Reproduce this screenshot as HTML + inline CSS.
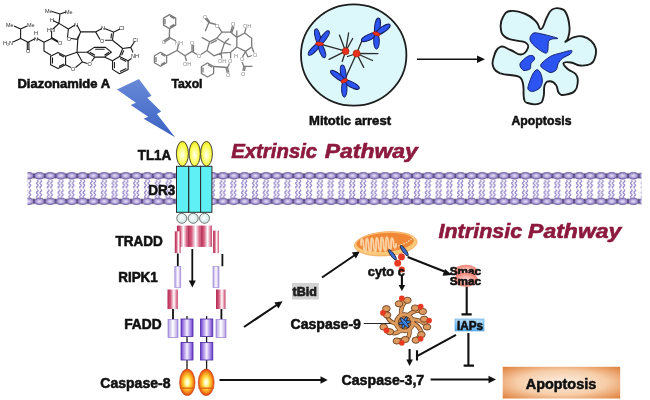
<!DOCTYPE html>
<html><head><meta charset="utf-8">
<style>
html,body{margin:0;padding:0;background:#fff;width:650px;height:400px;overflow:hidden}
svg{display:block;filter:blur(0.35px)}
text{font-family:"Liberation Sans",sans-serif;font-weight:bold;fill:#111}
text.b{stroke:#111;stroke-width:0.55px}
text.r{fill:#8c1a3e;stroke:#8c1a3e;stroke-width:0.6px}
</style></head><body>
<svg width="650" height="400" viewBox="0 0 650 400">
<defs>
  <radialGradient id="head" cx="50%" cy="50%" r="50%">
    <stop offset="0" stop-color="#ebe5f8"/>
    <stop offset="0.55" stop-color="#b2a4da"/>
    <stop offset="1" stop-color="#7866b2"/>
  </radialGradient>
  <pattern id="mem" x="34" y="172" width="10.8" height="33" patternUnits="userSpaceOnUse">
    <path d="M0,0.4 L1.6,3.8 L0,7.2 L-1.6,3.8Z M10.8,0.4 L12.4,3.8 L10.8,7.2 L9.2,3.8Z M0,25.9 L1.6,29.3 L0,32.7 L-1.6,29.3Z M10.8,25.9 L12.4,29.3 L10.8,32.7 L9.2,29.3Z" fill="#3c3258"/>
    <ellipse cx="5.4" cy="3.7" rx="5.3" ry="3.5" fill="url(#head)" stroke="#54447f" stroke-width="0.55"/>
    <ellipse cx="5.4" cy="29.4" rx="5.3" ry="3.5" fill="url(#head)" stroke="#54447f" stroke-width="0.55"/>
    <path d="M3.30,8.20 q1.70,1.02 0,2.05 q-1.70,1.02 0,2.05 q1.70,1.02 0,2.05 q-1.70,1.02 0,2.05M3.30,17.60 q1.70,1.02 0,2.05 q-1.70,1.02 0,2.05 q1.70,1.02 0,2.05 q-1.70,1.02 0,2.05M6.70,8.20 q1.70,1.02 0,2.05 q-1.70,1.02 0,2.05 q1.70,1.02 0,2.05 q-1.70,1.02 0,2.05M6.70,17.60 q1.70,1.02 0,2.05 q-1.70,1.02 0,2.05 q1.70,1.02 0,2.05 q-1.70,1.02 0,2.05" fill="none" stroke="#9282c8" stroke-width="1.25"/>
  </pattern>
</defs>

<!-- Diazonamide A structure -->
<g fill="none" stroke="#1a1a1a" stroke-width="1.1" stroke-linejoin="round">
  <path d="M14,26 L20.6,29 L27,26 M20.6,29 L20.6,38.5 L13,42 M20.6,38.5 L28.1,42.2 L35.5,38.5 M27.3,42.2 L27.3,50 M28.9,42.2 L28.9,50 M37,38.5 L44,42.2 L44,51 L51,55.3 M44,42.2 L51.6,38.5 L58,42.2 M51.6,37.5 L58,41.2 M51.6,38.5 L51.6,31 M53,29 L59,23.4 L53,20.5 M59,23.4 L60,14 L52,11.5 M60,14 L66,12 M59,23.4 L68.4,29"/>
  <path d="M68.4,29 L75,25 M77,25 L80.6,31.9 L77.8,39.4 L71,38.5 M67.5,37.5 L68.4,29 M80,33.5 L77.3,38.5"/>
  <path d="M80.6,31.9 L95.6,31.9 L102,28.6 M104.5,28.6 L113.5,31.9 L112.5,40.3 L105,40.3 M100,39.5 L95.6,31.9 M114,32 L120,29 M111.5,33.5 L111,38.5"/>
  <path d="M112.5,40.3 L122.7,48.5 L130.8,47.4 L134.6,41.5 M130.8,47.4 L133,52.5 M131.5,58.5 L128.1,60.8 L119.5,56.5 L122.7,48.5 M123.8,50.5 L121.6,55.3"/>
  <path d="M119.5,56.5 L112.5,60.8 L112.5,69.4 L119.5,73.8 L128.1,69.4 L128.1,60.8 M114.4,62 L114.4,68.3 M120,71.6 L126.3,68.4 M120.2,58.6 L126.2,61.6"/>
  <path d="M112.5,60.8 L104.4,57.1 L111.4,52.2 L105.5,47.4 L94.2,47.4 L87.2,52.2 L94.8,57.1 L104.4,57.1 M95.2,49.3 L104.6,49.3 M104.5,55.2 L109,52.2 M89.8,52.2 L95,55.3"/>
  <path d="M94.8,57.1 L91.5,61.5 M87.5,63.5 L82.4,61.9 L77,52.2 L87.2,52.2 M77.8,39.4 L77,52.2"/>
  <path d="M77,52.2 L65.6,56.3 L58,52.5 L50.6,56.3 L50.6,64.7 L58,68.4 L65.6,64.7 L65.6,56.3 M65.6,64.7 L71,67.5 M75.5,67.5 L82.4,61.9 M52.5,57.5 L52.5,63.5 M59,66.5 L64,64 M59,54.5 L64,57"/>
</g>
<g style="font-size:5.5px;font-weight:normal" fill="#2a2a2a">
  <text x="6" y="27" style="font-size:5.5px;font-weight:normal;fill:#2a2a2a">Me</text>
  <text x="27" y="27" style="font-size:5.5px;font-weight:normal;fill:#2a2a2a">Me</text>
  <text x="3" y="45" style="font-size:5.5px;font-weight:normal;fill:#2a2a2a">H₂N</text>
  <text x="26" y="53" style="font-size:5.5px;font-weight:normal;fill:#2a2a2a">O</text>
  <text x="34" y="35" style="font-size:5.5px;font-weight:normal;fill:#2a2a2a">H</text>
  <text x="34" y="41" style="font-size:5.5px;font-weight:normal;fill:#2a2a2a">N</text>
  <text x="58" y="45" style="font-size:5.5px;font-weight:normal;fill:#2a2a2a">O</text>
  <text x="47" y="32" style="font-size:5.5px;font-weight:normal;fill:#2a2a2a">HN</text>
  <text x="50" y="22" style="font-size:5.5px;font-weight:normal;fill:#2a2a2a">H</text>
  <text x="45" y="13" style="font-size:5.5px;font-weight:normal;fill:#2a2a2a">Me</text>
  <text x="65" y="14" style="font-size:5.5px;font-weight:normal;fill:#2a2a2a">Me</text>
  <text x="74" y="27" style="font-size:5.5px;font-weight:normal;fill:#2a2a2a">N</text>
  <text x="67" y="41" style="font-size:5.5px;font-weight:normal;fill:#2a2a2a">O</text>
  <text x="101" y="30" style="font-size:5.5px;font-weight:normal;fill:#2a2a2a">N</text>
  <text x="100" y="43" style="font-size:5.5px;font-weight:normal;fill:#2a2a2a">O</text>
  <text x="119" y="30" style="font-size:5.5px;font-weight:normal;fill:#2a2a2a">Cl</text>
  <text x="132.5" y="42" style="font-size:5.5px;font-weight:normal;fill:#2a2a2a">Cl</text>
  <text x="131" y="58.2" style="font-size:5.5px;font-weight:normal;fill:#2a2a2a">NH</text>
  <text x="87.5" y="66" style="font-size:5.5px;font-weight:normal;fill:#2a2a2a">O</text>
  <text x="71" y="71.3" style="font-size:5.5px;font-weight:normal;fill:#2a2a2a">O</text>
</g>
<!-- Taxol structure -->
<g fill="none" stroke="#7c7c7c" stroke-width="1.3" stroke-linejoin="round">
  <path d="M169.6,14.6 L175.7,18.1 L175.7,25.1 L169.6,28.6 L163.5,25.1 L163.5,18.1Z M165,19 L165,24.3 M170,16.3 L174.3,18.8 M170,26.9 L174.3,24.4"/>
  <path d="M169.6,28.6 L169.3,37.4 L163.5,41 M169.8,38.8 L164.3,42.3 M169.3,37.4 L176,41"/>
  <path d="M178.5,44.5 L177.1,50.5 L185,55.8 L186.5,61 M185,55.8 L192,51.4 L192,45 M193.5,51.4 L193.5,45 M192,51.4 L197,54.5 M201,54.5 L207,50.5"/>
  <path d="M177.1,50.5 L166.6,55.8 M166.6,55.8 L166.6,62.8 L160.5,66.3 L154.4,62.8 L154.4,55.8 L160.5,52.3Z M156,57 L156,62 M161,54 L165,56.3 M161,64.6 L165,62.3"/>
  <path d="M207,50.5 L209.6,41.8 L201.8,37.4 M209.6,41.8 L216.6,38.3 M210.5,43.5 L216.8,40.3 M216.6,38.3 L221.9,32.1 L218.5,27 M216,24.5 L208.8,22.5 L205.3,18.5 M209.8,21.8 L206.6,17.8 M208.8,22.5 L205.3,31.3"/>
  <path d="M221.9,32.1 L230.6,32.1 L232.5,26 M231.8,32.5 L234,26.5 M230.6,32.1 L236.8,37.4 L236.8,30.4 M236.8,37.4 L244.7,33 L246,28 M244.7,33 L251.7,38.3 L251.7,47 L245.5,51.4 L236.8,47 L236.8,37.4"/>
  <path d="M251.7,47 L254,52.5 M252,55.5 L248,57 L245.5,51.4"/>
  <path d="M236.8,47 L230.6,52.3 L221,53.2 L214,55.8 L207,50.5 M221,53.2 L221.9,58.5 M221,53.2 L224.5,42.7 L216.6,38.3 M224.5,42.7 L229,38.5 M224.5,42.7 L231,45"/>
  <path d="M230.6,52.3 L230.6,58.5 M229.5,63.5 L227.5,67.5 L228.8,72.5 M226,67.8 L227.3,72.8 M227.5,67.5 L213.6,66.5"/>
  <path d="M213.6,66.5 L213.6,73.5 L207.5,77 L201.4,73.5 L201.4,66.5 L207.5,63Z M203,67.5 L203,72.5 M208,64.8 L212.2,67.2"/>
  <path d="M245.5,51.4 L242.5,57 M242,62 L243.8,66.3 L243,71 M245.3,66.3 L244.5,71 M243.8,66.3 L252.5,66.3"/>
</g>
<g fill="#8a8a8a">
  <text x="162" y="44" style="font-size:5.5px;font-weight:normal;fill:#8a8a8a">O</text>
  <text x="175" y="44.5" style="font-size:5.5px;font-weight:normal;fill:#8a8a8a">NH</text>
  <text x="183" y="66" style="font-size:5.5px;font-weight:normal;fill:#8a8a8a">OH</text>
  <text x="190" y="45" style="font-size:5.5px;font-weight:normal;fill:#8a8a8a">O</text>
  <text x="197" y="58" style="font-size:5.5px;font-weight:normal;fill:#8a8a8a">O</text>
  <text x="203" y="19" style="font-size:5.5px;font-weight:normal;fill:#8a8a8a">O</text>
  <text x="215" y="27.5" style="font-size:5.5px;font-weight:normal;fill:#8a8a8a">O</text>
  <text x="231" y="26" style="font-size:5.5px;font-weight:normal;fill:#8a8a8a">O</text>
  <text x="243" y="28" style="font-size:5.5px;font-weight:normal;fill:#8a8a8a">OH</text>
  <text x="253" y="57" style="font-size:5.5px;font-weight:normal;fill:#8a8a8a">O</text>
  <text x="218" y="63" style="font-size:5.5px;font-weight:normal;fill:#8a8a8a">OH</text>
  <text x="228" y="63" style="font-size:5.5px;font-weight:normal;fill:#8a8a8a">O</text>
  <text x="234" y="58" style="font-size:5.5px;font-weight:normal;fill:#8a8a8a">H</text>
  <text x="240" y="61" style="font-size:5.5px;font-weight:normal;fill:#8a8a8a">O</text>
  <text x="226" y="77" style="font-size:5.5px;font-weight:normal;fill:#8a8a8a">O</text>
  <text x="241" y="76" style="font-size:5.5px;font-weight:normal;fill:#8a8a8a">O</text>
</g>
<text class="b" x="17.5" y="88" textLength="92.5" lengthAdjust="spacingAndGlyphs" style="font-size:12.5px">Diazonamide A</text>
<text class="b" x="171.5" y="88" textLength="31" lengthAdjust="spacingAndGlyphs" style="font-size:12.5px">Taxol</text>
<!-- lightning -->
<defs>
  <linearGradient id="bolt" x1="0" y1="0" x2="0" y2="1">
    <stop offset="0" stop-color="#6a8ad8"/>
    <stop offset="1" stop-color="#3a62c4"/>
  </linearGradient>
</defs>
<path d="M117,89.4 L138.9,78.9 L151.5,95.7 L147.3,97.8 L161.1,111.4 L156.9,113.9 L175.1,137.2 L143.6,118.8 L148.2,116.7 L130.7,105.1 L135.9,102.7Z" fill="url(#bolt)"/>
<!-- mitotic cell -->
<ellipse cx="353.7" cy="55" rx="52.7" ry="50.6" fill="#dcf8fb" stroke="#1e1e1e" stroke-width="1.8"/>
<g stroke="#2a2a2a" stroke-width="1.3" fill="none" stroke-linecap="round">
  <path d="M319.5,43.8 L345.6,51.2 M344.3,80.8 L356.6,53.5 M362,40.5 L356.6,53.5"/>
  <path d="M345.6,51.2 L339.5,35.2 M345.6,51.2 L348.6,33 M345.6,51.2 L352.7,38.5 M345.6,51.2 L329.1,59.4 M345.6,51.2 L342.2,61.5"/>
  <path d="M356.6,53.5 L378,53.6 M356.6,53.5 L372.5,60.5 M356.6,53.5 L363.7,67.4 M356.6,53.5 L347.5,56.5"/>
</g>
<g fill="#2c54f0" stroke="#141c60" stroke-width="1">
  <ellipse cx="317.75" cy="36.65" rx="2.6" ry="7.96" transform="rotate(-13.8 317.75 36.65)"/>
  <ellipse cx="324.00" cy="37.65" rx="2.6" ry="8.22" transform="rotate(36.2 324.00 37.65)"/>
  <ellipse cx="314.25" cy="49.15" rx="2.6" ry="8.10" transform="rotate(-135.5 314.25 49.15)"/>
  <ellipse cx="322.00" cy="50.40" rx="2.6" ry="7.66" transform="rotate(159.3 322.00 50.40)"/>
  <ellipse cx="377.50" cy="26.15" rx="2.8" ry="8.32" transform="rotate(7.4 377.50 26.15)"/>
  <ellipse cx="383.00" cy="29.40" rx="2.8" ry="8.45" transform="rotate(55.9 383.00 29.40)"/>
  <ellipse cx="369.25" cy="37.15" rx="2.8" ry="8.59" transform="rotate(-114.8 369.25 37.15)"/>
  <ellipse cx="376.50" cy="41.15" rx="2.8" ry="7.95" transform="rotate(180.0 376.50 41.15)"/>
  <ellipse cx="343.25" cy="73.20" rx="2.7" ry="8.27" transform="rotate(-7.9 343.25 73.20)"/>
  <ellipse cx="337.75" cy="75.95" rx="2.7" ry="8.75" transform="rotate(-53.5 337.75 75.95)"/>
  <ellipse cx="351.50" cy="84.55" rx="2.7" ry="8.72" transform="rotate(117.5 351.50 84.55)"/>
  <ellipse cx="344.30" cy="88.70" rx="2.7" ry="8.50" transform="rotate(180.0 344.30 88.70)"/>
</g>
<g fill="#e8301c" stroke="#901808" stroke-width="0.5">
  <ellipse cx="319.5" cy="43.8" rx="4" ry="1.9" transform="rotate(5 319.5 43.8)"/>
  <ellipse cx="376.5" cy="33.8" rx="3.8" ry="1.9" transform="rotate(20 376.5 33.8)"/>
  <ellipse cx="344.3" cy="80.8" rx="3.6" ry="1.9" transform="rotate(-25 344.3 80.8)"/>
  <circle cx="345.6" cy="51.2" r="3.5"/>
  <circle cx="356.6" cy="53.5" r="3.6"/>
</g>
<!-- arrow mitotic to apoptosis -->
<path d="M417,59.2 L479,59.2" stroke="#111" stroke-width="1.6"/>
<path d="M477,55.5 L485,59.2 L477,62.9Z" fill="#111"/>
<!-- apoptotic cell -->
<path d="M510.5,11.0 C515.8,10.3 519.5,11.6 525.5,14.0 C531.5,16.4 532.3,18.0 536.0,21.5 C539.7,25.0 538.6,30.1 541.2,29.0 C543.8,27.9 544.4,21.6 547.0,17.0 C549.6,12.4 549.1,11.4 552.2,9.5 C555.4,7.6 557.2,7.6 560.5,8.7 C563.8,9.8 564.4,9.6 566.5,14.0 C568.6,18.4 569.1,21.9 569.5,27.5 C569.9,33.1 568.9,34.7 568.0,38.0 C567.1,41.3 564.3,41.9 565.7,41.7 C567.1,41.5 570.0,38.4 574.0,37.2 C578.0,36.0 579.0,35.6 583.0,36.5 C587.0,37.4 588.2,38.2 591.2,41.0 C594.2,43.8 594.8,44.6 595.7,48.5 C596.6,52.4 596.2,53.9 595.0,57.5 C593.8,61.1 594.0,62.1 590.5,64.0 C587.0,65.9 584.5,65.8 580.0,65.5 C575.5,65.2 574.9,63.0 571.0,62.5 C567.1,62.0 564.2,61.6 563.5,63.2 C562.8,64.8 565.1,66.6 568.0,69.2 C570.9,71.8 573.7,71.5 576.0,74.5 C578.3,77.5 578.0,78.2 577.7,82.0 C577.4,85.8 577.7,88.0 574.7,91.0 C571.7,94.0 568.7,94.2 565.0,94.7 C561.3,95.2 561.1,95.5 559.0,93.2 C556.9,90.9 558.1,87.8 556.0,85.0 C553.9,82.2 552.6,81.2 550.0,81.2 C547.4,81.2 546.2,81.3 544.7,85.0 C543.2,88.7 544.8,92.6 543.5,97.0 C542.2,101.4 542.7,102.3 539.0,103.7 C535.3,105.1 531.2,104.2 527.7,103.0 C524.2,101.8 525.0,102.7 524.0,98.5 C523.0,94.3 524.1,89.9 523.2,85.0 C522.3,80.1 522.8,79.8 520.2,77.5 C517.6,75.2 516.4,76.1 512.0,75.2 C507.6,74.3 505.7,75.3 501.5,73.7 C497.3,72.1 495.9,72.2 494.0,68.5 C492.1,64.8 492.1,63.0 493.5,58.0 C494.9,53.0 496.0,48.9 500.0,47.0 C504.0,45.1 505.6,48.2 510.5,50.0 C515.4,51.8 517.0,54.9 521.0,54.5 C525.0,54.1 526.7,51.3 527.7,48.5 C528.8,45.7 528.6,44.4 525.5,42.5 C522.4,40.6 519.1,41.6 514.2,40.2 C509.3,38.8 507.7,39.5 504.5,36.5 C501.3,33.5 501.1,32.0 500.7,27.5 C500.3,22.9 500.7,20.9 503.0,17.0 C505.3,13.2 505.2,11.7 510.5,11.0Z" fill="#dcf8fb" stroke="#1e1e1e" stroke-width="1.9"/>
<g fill="#2c54f0" stroke="#162070" stroke-width="1">
  <path d="M531.0,35.5 C531.9,34.5 532.4,32.5 536.3,32.9 C540.2,33.3 554.9,37.2 557.3,38.1 C559.7,39.0 553.3,38.5 552.0,39.0 C550.7,39.5 549.1,39.8 548.5,41.6 C547.9,43.4 548.2,49.6 547.7,51.3 C547.2,53.0 546.3,53.3 545.0,53.0 C543.7,52.7 540.7,50.8 538.9,49.5 C537.1,48.2 534.1,45.7 532.8,44.3 C531.5,42.9 530.4,41.2 530.1,39.9 C529.8,38.6 530.1,36.5 531.0,35.5Z"/>
  <path d="M520.5,62.7 C521.5,61.1 525.7,57.6 527.5,56.5 C529.3,55.4 531.8,55.2 532.8,55.6 C533.8,56.0 534.8,58.0 534.5,59.2 C534.2,60.4 531.7,62.1 531.0,63.5 C530.3,64.9 531.1,67.8 530.1,68.8 C529.1,69.8 525.4,70.8 524.0,70.5 C522.6,70.2 521.0,68.2 520.5,67.0 C520.0,65.8 519.5,64.3 520.5,62.7Z"/>
  <path d="M540.6,65.3 C541.0,63.1 547.3,58.3 550.3,56.5 C553.3,54.7 557.6,53.9 560.8,53.0 C563.9,52.1 569.9,50.3 571.3,50.4 C572.7,50.5 571.7,52.7 570.4,53.9 C569.1,55.1 564.3,56.9 562.5,58.3 C560.7,59.7 559.1,61.8 558.2,63.5 C557.3,65.2 557.3,68.4 556.4,69.7 C555.5,71.0 553.3,72.0 552.0,72.3 C550.7,72.6 549.4,72.5 547.7,71.4 C546.0,70.4 540.2,67.5 540.6,65.3Z"/>
  <path d="M528.4,85.4 C529.1,83.0 531.5,76.4 532.8,74.0 C534.1,71.6 535.9,69.8 537.1,69.7 C538.3,69.6 539.8,71.5 540.6,73.2 C541.4,74.9 542.5,78.8 542.4,81.0 C542.3,83.2 541.2,86.4 539.8,88.0 C538.4,89.6 534.5,91.2 532.8,91.5 C531.1,91.8 529.1,90.7 528.4,89.8 C527.7,88.9 527.7,87.8 528.4,85.4Z"/>
</g>
<text class="b" x="309" y="124.6" textLength="82" lengthAdjust="spacingAndGlyphs" style="font-size:12.8px">Mitotic arrest</text>
<text class="b" x="511.5" y="124.6" textLength="60" lengthAdjust="spacingAndGlyphs" style="font-size:12.8px">Apoptosis</text>

<!-- membrane -->
<rect x="27.5" y="172" width="614" height="33" fill="url(#mem)"/>

<defs>
  <radialGradient id="yel" cx="50%" cy="55%" r="55%">
    <stop offset="0" stop-color="#ffffff"/>
    <stop offset="0.35" stop-color="#ffffa0"/>
    <stop offset="0.75" stop-color="#fafa40"/>
    <stop offset="1" stop-color="#e8e020"/>
  </radialGradient>
  <radialGradient id="wball" cx="45%" cy="45%" r="55%">
    <stop offset="0" stop-color="#ffffff"/>
    <stop offset="1" stop-color="#cfe6e6"/>
  </radialGradient>
  <linearGradient id="pinkc" x1="0" y1="0" x2="1" y2="0">
    <stop offset="0" stop-color="#b02850"/>
    <stop offset="0.3" stop-color="#d45a7c"/>
    <stop offset="0.62" stop-color="#ffffff"/>
    <stop offset="0.85" stop-color="#e48aa2"/>
    <stop offset="1" stop-color="#c03a62"/>
  </linearGradient>
  <linearGradient id="lavc" x1="0" y1="0" x2="1" y2="0">
    <stop offset="0" stop-color="#b098e0"/>
    <stop offset="0.5" stop-color="#ffffff"/>
    <stop offset="1" stop-color="#b098e0"/>
  </linearGradient>
  <linearGradient id="purc" x1="0" y1="0" x2="1" y2="0">
    <stop offset="0" stop-color="#6a3ad0"/>
    <stop offset="0.5" stop-color="#f4eeff"/>
    <stop offset="1" stop-color="#6a3ad0"/>
  </linearGradient>
  <radialGradient id="casp8" cx="50%" cy="50%" r="50%">
    <stop offset="0" stop-color="#ffffff"/>
    <stop offset="0.22" stop-color="#fffab0"/>
    <stop offset="0.5" stop-color="#ffd030"/>
    <stop offset="0.75" stop-color="#f89020"/>
    <stop offset="0.92" stop-color="#e85810"/>
    <stop offset="1" stop-color="#c83810"/>
  </radialGradient>
  <radialGradient id="mito" cx="50%" cy="50%" r="50%">
    <stop offset="0" stop-color="#f6b870"/>
    <stop offset="1" stop-color="#ec7a28"/>
  </radialGradient>
  <radialGradient id="smac" cx="50%" cy="50%" r="50%">
    <stop offset="0" stop-color="#fbe0dc"/>
    <stop offset="1" stop-color="#ef8072"/>
  </radialGradient>
  <linearGradient id="iaps" x1="0" y1="0" x2="0" y2="1">
    <stop offset="0" stop-color="#b8e0fa"/>
    <stop offset="1" stop-color="#5ab0ec"/>
  </linearGradient>
  <radialGradient id="apobox" cx="50%" cy="50%" r="70%">
    <stop offset="0" stop-color="#fdf0e4"/>
    <stop offset="0.55" stop-color="#f6cda8"/>
    <stop offset="1" stop-color="#e0803c"/>
  </radialGradient>
</defs>
<!-- receptor TL1A/DR3 -->
<g stroke="#2a2a2a" stroke-width="1">
  <rect x="176.5" y="166.3" width="12" height="46" fill="#5ef0f4"/>
  <rect x="188.8" y="166.3" width="11.8" height="46" fill="#5ef0f4"/>
  <rect x="200.6" y="166.3" width="11.3" height="46" fill="#5ef0f4"/>
</g>
<g stroke="#333" stroke-width="0.9" fill="url(#yel)">
  <ellipse cx="182.4" cy="153.75" rx="6" ry="12.4"/>
  <ellipse cx="194.7" cy="153.75" rx="5.6" ry="12.4"/>
  <ellipse cx="206.5" cy="153.75" rx="5.9" ry="12.4"/>
</g>
<g stroke="#555" stroke-width="0.8" fill="url(#wball)">
  <circle cx="181.8" cy="218.3" r="5"/>
  <circle cx="193.2" cy="218.3" r="5"/>
  <circle cx="204.5" cy="218.3" r="5"/>
</g>
<!-- TRADD -->
<g>
  <rect x="176.9" y="225.6" width="10.6" height="21.3" fill="url(#pinkc)"/>
  <rect x="187.5" y="225.6" width="13.1" height="21.3" fill="url(#pinkc)"/>
  <rect x="200.6" y="225.6" width="11.3" height="21.3" fill="url(#pinkc)"/>
  <rect x="174.8" y="231.3" width="5.8" height="21.8" fill="url(#pinkc)"/>
  <rect x="213.1" y="230.6" width="5.7" height="22.5" fill="url(#pinkc)"/>
</g>
<g stroke="#111" stroke-width="1.8" fill="none">
  <path d="M177.8,253.5 V266 M222.4,254 V266.3 M192.3,249 V281"/>
  <path d="M173,308.5 V319.5 M221.4,308.5 V319.5"/>
</g>
<path d="M188.8,280.5 L195.8,280.5 L192.3,287.5Z" fill="#111"/>
<g stroke="#9a88d8" stroke-width="0.6">
  <rect x="174.8" y="266.3" width="6" height="21.4" fill="url(#lavc)"/>
  <rect x="213" y="266.3" width="6" height="21.4" fill="url(#lavc)"/>
</g>
<g>
  <rect x="167.5" y="289.5" width="10.3" height="19.5" fill="url(#pinkc)"/>
  <rect x="216" y="289.5" width="9.5" height="19.5" fill="url(#pinkc)"/>
</g>
<g stroke="#8a70d0" stroke-width="0.6">
  <rect x="168" y="319.6" width="10" height="18" fill="url(#lavc)"/>
  <rect x="216" y="319.6" width="10" height="18" fill="url(#lavc)"/>
</g>
<g stroke="#1a1a1a" stroke-width="1.3" fill="none">
  <path d="M187,316 V319 M206.6,316 V319 M187,336.4 V342.4 M206.6,336.4 V342.4 M187,360 V369.5 M206.6,360 V369.5"/>
</g>
<g stroke="#4a2aa0" stroke-width="0.8">
  <rect x="181" y="319" width="12" height="17.4" fill="url(#purc)"/>
  <rect x="200.5" y="319" width="12.3" height="17.4" fill="url(#purc)"/>
  <rect x="181" y="342.4" width="12" height="17.6" fill="url(#purc)"/>
  <rect x="200.5" y="342.4" width="12.3" height="17.6" fill="url(#purc)"/>
</g>
<!-- caspase-8 -->
<g>
  <ellipse cx="187.3" cy="382.3" rx="7.8" ry="13.3" fill="url(#casp8)" stroke="#c84010" stroke-width="0.5"/>
  <ellipse cx="206.2" cy="382.3" rx="8" ry="13.3" fill="url(#casp8)" stroke="#c84010" stroke-width="0.5"/>
  <path d="M180,388.2 H194.6 M198.5,388.2 H214" stroke="#e06010" stroke-width="1.3"/>
</g>
<!-- labels -->
<text class="b" x="137.8" y="160.2" textLength="33.4" lengthAdjust="spacingAndGlyphs" style="font-size:13.8px">TL1A</text>
<text class="b" x="148.2" y="194.7" textLength="27" lengthAdjust="spacingAndGlyphs" style="font-size:13.8px">DR3</text>
<text class="b" x="115.4" y="246" textLength="47.4" lengthAdjust="spacingAndGlyphs" style="font-size:13.8px">TRADD</text>
<text class="b" x="118.2" y="282.2" textLength="39.6" lengthAdjust="spacingAndGlyphs" style="font-size:13.8px">RIPK1</text>
<text class="b" x="124.2" y="329.3" textLength="37.4" lengthAdjust="spacingAndGlyphs" style="font-size:13.8px">FADD</text>
<text class="b" x="100.3" y="387.6" textLength="70.2" lengthAdjust="spacingAndGlyphs" style="font-size:13.8px">Caspase-8</text>
<text class="r" x="231.2" y="158" textLength="86" lengthAdjust="spacingAndGlyphs" style="font-size:20px;font-style:italic;fill:#8c1a3e">Extrinsic</text>
<text class="r" x="324.8" y="158" textLength="93" lengthAdjust="spacingAndGlyphs" style="font-size:20px;font-style:italic;fill:#8c1a3e">Pathway</text>
<text class="r" x="438.5" y="237.8" textLength="83.7" lengthAdjust="spacingAndGlyphs" style="font-size:20px;font-style:italic;fill:#8c1a3e">Intrinsic</text>
<text class="r" x="528.1" y="237.8" textLength="93.3" lengthAdjust="spacingAndGlyphs" style="font-size:20px;font-style:italic;fill:#8c1a3e">Pathway</text>
<!-- arrows -->
<g stroke="#111" stroke-width="2.1" fill="none">
  <path d="M219.5,380 H322"/>
  <path d="M244,327 L277.5,304.5"/>
  <path d="M322,277.5 L355,255"/>
  <path d="M407.7,256.9 L447,272.5"/>
  <path d="M401.9,275 V286"/>
  <path d="M466.7,286.5 V314 M461.5,314.4 H471.7"/>
  <path d="M468.4,333 V365.5 M463.6,365.6 H474"/>
  <path d="M456,334.8 L417.5,355.9 M417,350.3 V360.5"/>
  <path d="M409.6,349 V360"/>
  <path d="M430.6,379.5 H490"/>
  <path d="M363.8,323.5 H398" stroke-width="0.9"/>
</g>
<g fill="#111">
  <path d="M327.7,380 L320.5,376.3 L320.5,383.7Z"/>
  <path d="M282.5,301.2 L274.3,302.4 L278.5,308.5Z"/>
  <path d="M360,251.3 L351.8,252.6 L355.9,258.6Z"/>
  <path d="M452,274.9 L445,269 L442.5,275.8Z"/>
  <path d="M401.9,291 L398.6,285 L405.2,285Z"/>
  <path d="M409.6,366 L406.3,359.5 L412.9,359.5Z"/>
  <path d="M496,379.5 L488.5,375.8 L488.5,383.2Z"/>
</g>
<!-- tBid -->
<rect x="292" y="283" width="26.8" height="16.5" fill="#d2d2d2"/>
<text class="b" x="292.6" y="296.3" textLength="24.4" lengthAdjust="spacingAndGlyphs" style="font-size:12px;fill:#222">tBid</text>
<!-- mitochondrion -->
<g transform="rotate(-4 385.7 243.2)">
  <ellipse cx="385.7" cy="243.8" rx="31.4" ry="12" fill="#f9c878" stroke="#f0a050" stroke-width="0.7"/>
  <ellipse cx="385.2" cy="242.3" rx="28.8" ry="9.4" fill="#f08838"/>
  <path d="M361,244 c0,-9 2.5,-9 2.5,0 c0,9 2.5,9 2.5,0 c0,-9 2.5,-9 2.5,0 c0,9 2.5,9 2.5,0 c0,-9 2.5,-9 2.5,0 c0,9 2.5,9 2.5,0 c0,-9 2.5,-9 2.5,0 c0,9 2.5,9 2.5,0 c0,-9 2.5,-9 2.5,0 c0,9 2.5,9 2.5,0 c0,-9 2.5,-9 2.5,0 c0,8 2.5,8 2.5,0 c0,-7 2.5,-7 2.5,0 c0,6 2.5,6 2.5,0" fill="none" stroke="#fbd0a0" stroke-width="1.9"/>
  <path d="M398,247 l3,-1 l3,-1 l3,-1 l3,-2 l3,-2 l2,-3" fill="none" stroke="#fde6c8" stroke-width="1.3" stroke-dasharray="1.4 1.4"/>
</g>
<g fill="#3a6ad0" stroke="#111" stroke-width="0.7">
  <ellipse cx="392.4" cy="254.8" rx="1.8" ry="6.3" transform="rotate(-36 392.4 254.8)"/>
  <ellipse cx="404.3" cy="250.7" rx="1.8" ry="6.3" transform="rotate(-36 404.3 250.7)"/>
</g>
<g fill="#e83a20">
  <circle cx="401.5" cy="256.9" r="3.4"/>
  <circle cx="397.7" cy="263.2" r="3.4"/>
  <circle cx="401.8" cy="269.6" r="3"/>
</g>
<text class="b" x="367.8" y="276" textLength="37" lengthAdjust="spacingAndGlyphs" style="font-size:12.5px">cyto c</text>
<!-- Smac -->
<ellipse cx="465.9" cy="271.5" rx="11.8" ry="6.8" fill="url(#smac)"/>
<text class="b" x="449.7" y="275.2" textLength="31.5" lengthAdjust="spacingAndGlyphs" style="font-size:10.8px">Smac</text>
<ellipse cx="465.9" cy="279.8" rx="11.8" ry="7" fill="url(#smac)"/>
<text class="b" x="449.7" y="284.7" textLength="31.5" lengthAdjust="spacingAndGlyphs" style="font-size:10.8px">Smac</text>
<!-- IAPs -->
<rect x="455" y="319" width="29" height="12" fill="url(#iaps)" stroke="#4aa0e0" stroke-width="0.6"/>
<text class="b" x="457" y="330.4" textLength="26" lengthAdjust="spacingAndGlyphs" style="font-size:12px">IAPs</text>
<!-- caspase-9 -->
<text class="b" x="290.5" y="329" textLength="70.4" lengthAdjust="spacingAndGlyphs" style="font-size:13.8px">Caspase-9</text>
<!-- apoptosome -->
<g id="apo" transform="translate(404.6 322.7)">
  <g fill="none" stroke-linecap="round" stroke-linejoin="round">
    <path d="M-3.7,-7.1 Q-3.9,-18.9 2.8,-22.4 L-5.6,-18.9 M3.3,-7.3 Q11.7,-14.3 18.2,-11.2 L10.5,-14.7 M-7.9,1.5 Q-17.0,-1.3 -17.5,-7.7 L-18.2,-14.0 M7.3,-3.2 Q19.2,-2.7 22.4,4.3 L19.6,-3.5 M-3.2,7.3 Q-9.8,12.5 -14.7,9.1 L-21.0,4.3 M8.0,0.1 Q17.3,5.0 16.8,11.9 L11.2,17.5 M4.8,6.4 Q6.0,14.4 0.7,16.8 L-7.7,18.3 " stroke="#6a3c1c" stroke-width="4.4"/>
    <circle r="8.3" fill="#b87840" stroke="#6a3c1c" stroke-width="4.4"/>
    <path d="M-3.7,-7.1 Q-3.9,-18.9 2.8,-22.4 L-5.6,-18.9 M3.3,-7.3 Q11.7,-14.3 18.2,-11.2 L10.5,-14.7 M-7.9,1.5 Q-17.0,-1.3 -17.5,-7.7 L-18.2,-14.0 M7.3,-3.2 Q19.2,-2.7 22.4,4.3 L19.6,-3.5 M-3.2,7.3 Q-9.8,12.5 -14.7,9.1 L-21.0,4.3 M8.0,0.1 Q17.3,5.0 16.8,11.9 L11.2,17.5 M4.8,6.4 Q6.0,14.4 0.7,16.8 L-7.7,18.3 " stroke="#dc9a5c" stroke-width="3"/>
    <circle r="8.3" stroke="#dc9a5c" stroke-width="3"/>
  </g>
  <g fill="#dc9a60" stroke="#6a4020" stroke-width="0.9"><ellipse cx="-5.6" cy="-18.9" rx="3.8" ry="3.1"/><ellipse cx="2.8" cy="-22.4" rx="3.8" ry="3.1"/><ellipse cx="10.5" cy="-14.7" rx="3.8" ry="3.1"/><ellipse cx="18.2" cy="-11.2" rx="3.8" ry="3.1"/><ellipse cx="-18.2" cy="-14" rx="3.8" ry="3.1"/><ellipse cx="-17.5" cy="-7.7" rx="3.8" ry="3.1"/><ellipse cx="19.6" cy="-3.5" rx="3.8" ry="3.1"/><ellipse cx="22.4" cy="4.3" rx="3.8" ry="3.1"/><ellipse cx="-21" cy="4.3" rx="3.8" ry="3.1"/><ellipse cx="-14.7" cy="9.1" rx="3.8" ry="3.1"/><ellipse cx="11.2" cy="17.5" rx="3.8" ry="3.1"/><ellipse cx="16.8" cy="11.9" rx="3.8" ry="3.1"/><ellipse cx="-7.7" cy="18.3" rx="3.8" ry="3.1"/><ellipse cx="0.7" cy="16.8" rx="3.8" ry="3.1"/></g>
  <g fill="#e83a20"><circle cx="-2.8" cy="-24.5" r="2.8"/><circle cx="16.1" cy="-16.1" r="2.8"/><circle cx="-21.7" cy="-9.8" r="2.8"/><circle cx="24.5" cy="-2.1" r="2.8"/><circle cx="-18.2" cy="7.7" r="2.8"/><circle cx="16.1" cy="16.1" r="2.8"/><circle cx="-2.8" cy="20.3" r="2.8"/></g>
  <g fill="#3a86f0" stroke="#111" stroke-width="0.7">
    <ellipse rx="1.7" ry="6.2" transform="rotate(20)"/>
    <ellipse rx="1.7" ry="6.2" transform="rotate(80)"/>
    <ellipse rx="1.7" ry="6.2" transform="rotate(140)"/>
  </g>
</g>
<!-- apoptosis box -->
<rect x="502.7" y="366.8" width="117.5" height="31.7" fill="url(#apobox)"/>
<text class="b" x="525.8" y="388.5" textLength="70.4" lengthAdjust="spacingAndGlyphs" style="font-size:14px">Apoptosis</text>
<text class="b" x="341.5" y="385.4" textLength="82.7" lengthAdjust="spacingAndGlyphs" style="font-size:14px">Caspase-3,7</text>

</svg>
</body></html>
